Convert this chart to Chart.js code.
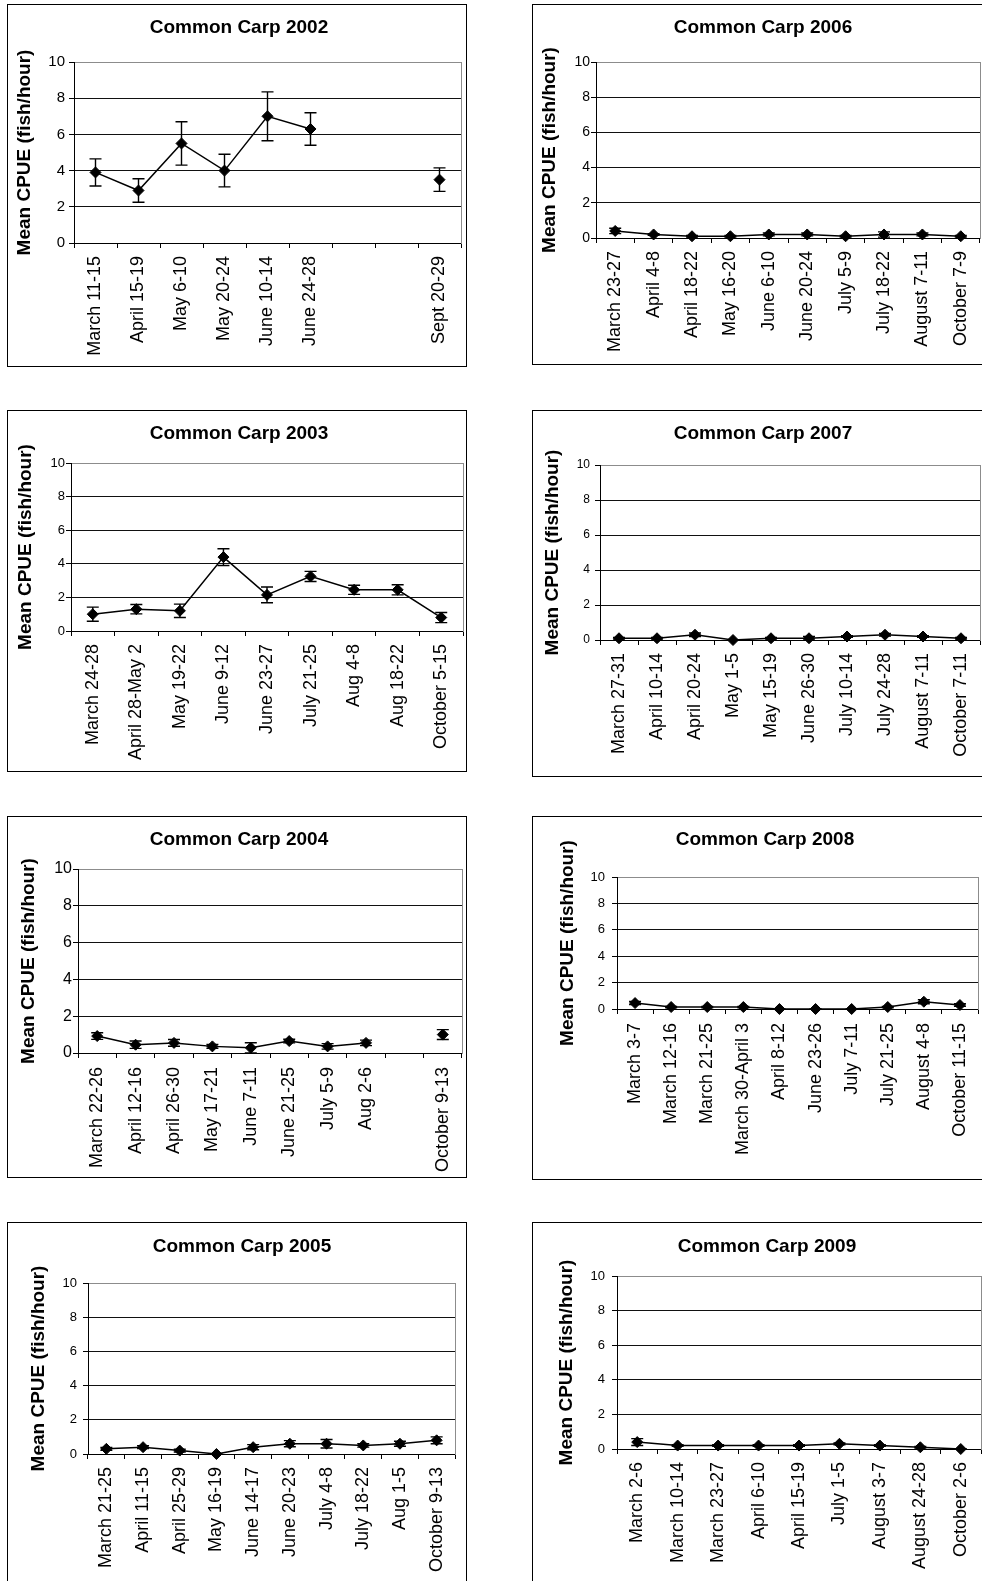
<!DOCTYPE html>
<html>
<head>
<meta charset="utf-8">
<title>Common Carp CPUE 2002-2009</title>
<script src="https://cdn.jsdelivr.net/npm/chart.js@4.4.1/dist/chart.umd.min.js"></script>
<style>
  html, body { margin: 0; padding: 0; background: #fff; }
  body { width: 982px; height: 1581px; overflow: hidden; position: relative; }
  .panel { position: absolute; box-sizing: border-box; border: 1px solid #000; background: #fff; }
  .panel canvas { position: absolute; left: 0; top: 0; }
</style>
</head>
<body>
<script>
// ---- sampling periods, mean CPUE (fish/hour) and error-bar half widths ----
const labels2002 = ["March 11-15", "April 15-19", "May 6-10", "May 20-24", "June 10-14", "June 24-28", "", "", "Sept 20-29"];
const cpue2002   = [3.9, 2.9, 5.5, 4.0, 7.0, 6.3, null, null, 3.5];
const se2002     = [0.75, 0.65, 1.2, 0.9, 1.35, 0.9, null, null, 0.65];

const labels2003 = ["March 24-28", "April 28-May 2", "May 19-22", "June 9-12", "June 23-27", "July 21-25", "Aug 4-8", "Aug 18-22", "October 5-15"];
const cpue2003   = [1.0, 1.3, 1.2, 4.4, 2.15, 3.25, 2.45, 2.45, 0.8];
const se2003     = [0.42, 0.28, 0.4, 0.5, 0.47, 0.3, 0.27, 0.3, 0.3];

const labels2004 = ["March 22-26", "April 12-16", "April 26-30", "May 17-21", "June 7-11", "June 21-25", "July 5-9", "Aug 2-6", "", "October 9-13"];
const cpue2004   = [0.92, 0.45, 0.55, 0.36, 0.28, 0.65, 0.36, 0.55, null, 1.0];
const se2004     = [0.18, 0.2, 0.18, 0.1, 0.28, 0.1, 0.15, 0.15, null, 0.27];

const labels2005 = ["March 21-25", "April 11-15", "April 25-29", "May 16-19", "June 14-17", "June 20-23", "July 4-8", "July 18-22", "Aug 1-5", "October 9-13"];
const cpue2005   = [0.3, 0.4, 0.2, 0.0, 0.4, 0.6, 0.6, 0.5, 0.6, 0.8];
const se2005     = [0.08, 0.08, 0.08, 0.02, 0.15, 0.18, 0.25, 0.1, 0.15, 0.2];

const labels2006 = ["March 23-27", "April 4-8", "April 18-22", "May 16-20", "June 6-10", "June 20-24", "July 5-9", "July 18-22", "August 7-11", "October 7-9"];
const cpue2006   = [0.4, 0.2, 0.1, 0.1, 0.2, 0.2, 0.1, 0.2, 0.2, 0.1];
const se2006     = [0.15, 0.05, 0.05, 0.05, 0.08, 0.08, 0.05, 0.15, 0.08, 0.05];

const labels2007 = ["March 27-31", "April 10-14", "April 20-24", "May 1-5", "May 15-19", "June 26-30", "July 10-14", "July 24-28", "August 7-11", "October 7-11"];
const cpue2007   = [0.1, 0.1, 0.3, 0.0, 0.1, 0.1, 0.2, 0.3, 0.2, 0.1];
const se2007     = [0.05, 0.05, 0.1, 0.02, 0.05, 0.1, 0.05, 0.08, 0.05, 0.05];

const labels2008 = ["March 3-7", "March 12-16", "March 21-25", "March 30-April 3", "April 8-12", "June 23-26", "July 7-11", "July 21-25", "August 4-8", "October 11-15"];
const cpue2008   = [0.45, 0.15, 0.15, 0.15, 0.0, 0.0, 0.0, 0.15, 0.55, 0.3];
const se2008     = [0.12, 0.05, 0.05, 0.05, 0.02, 0.02, 0.02, 0.05, 0.15, 0.1];

const labels2009 = ["March 2-6", "March 10-14", "March 23-27", "April 6-10", "April 15-19", "July 1-5", "August 3-7", "August 24-28", "October 2-6"];
const cpue2009   = [0.4, 0.2, 0.2, 0.2, 0.2, 0.3, 0.2, 0.1, 0.0];
const se2009     = [0.2, 0.05, 0.05, 0.05, 0.05, 0.05, 0.05, 0.05, 0.02];

const cpueTicks = [0, 2, 4, 6, 8, 10];
const yAxisTitle = "Mean CPUE (fish/hour)";

// ---- page layout of the eight panels (page pixels) ----
// box: [left, top, width, height] of the framed panel
// plot: [left, top, right, bottom] of the plotting area
const panels = [
  { title: "Common Carp 2002", labels: labels2002, values: cpue2002, errors: se2002,
    box: [7, 4, 460, 363], plot: [74, 62, 461, 243], titleAt: [239, 28], yTitleX: 25, yTickSize: 15, yTickPad: 4, xTickPad: 8 },
  { title: "Common Carp 2006", labels: labels2006, values: cpue2006, errors: se2006,
    box: [532, 4, 470, 361], plot: [596, 62, 980, 238], titleAt: [763, 28], yTitleX: 550, yTickSize: 14, yTickPad: 1, xTickPad: 8 },
  { title: "Common Carp 2003", labels: labels2003, values: cpue2003, errors: se2003,
    box: [7, 410, 460, 362], plot: [71, 463, 463, 631], titleAt: [239, 434], yTitleX: 26, yTickSize: 13, yTickPad: 1, xTickPad: 8 },
  { title: "Common Carp 2007", labels: labels2007, values: cpue2007, errors: se2007,
    box: [532, 410, 470, 367], plot: [600, 465, 980, 640], titleAt: [763, 434], yTitleX: 553, yTickSize: 12, yTickPad: 5, xTickPad: 8 },
  { title: "Common Carp 2004", labels: labels2004, values: cpue2004, errors: se2004,
    box: [7, 816, 460, 362], plot: [78, 869, 462, 1053], titleAt: [239, 840], yTitleX: 29, yTickSize: 16, yTickPad: 1, xTickPad: 9 },
  { title: "Common Carp 2008", labels: labels2008, values: cpue2008, errors: se2008,
    box: [532, 816, 470, 364], plot: [617, 877, 978, 1009], titleAt: [765, 840], yTitleX: 568, yTickSize: 13, yTickPad: 7, xTickPad: 9 },
  { title: "Common Carp 2005", labels: labels2005, values: cpue2005, errors: se2005,
    box: [7, 1222, 460, 400], plot: [88, 1283, 455, 1454], titleAt: [242, 1247], yTitleX: 39, yTickSize: 13, yTickPad: 6, xTickPad: 8 },
  { title: "Common Carp 2009", labels: labels2009, values: cpue2009, errors: se2009,
    box: [532, 1222, 470, 400], plot: [617, 1276, 981, 1449], titleAt: [767, 1247], yTitleX: 567, yTickSize: 13, yTickPad: 7, xTickPad: 8 }
];

const FONT = "'Liberation Sans', Arial, Helvetica, sans-serif";
const TITLE_SIZE = 19;
const AXIS_TITLE_SIZE = 19;
const LABEL_SIZE = 18;

// Vertical error bars with caps, positioned through the chart's own scales.
const errorBarPlugin = {
  id: 'errorBars',
  beforeDatasetsDraw(chart) {
    const ctx = chart.ctx;
    const yScale = chart.scales.y;
    chart.data.datasets.forEach((ds, i) => {
      const meta = chart.getDatasetMeta(i);
      ctx.save();
      ctx.strokeStyle = '#000';
      ctx.lineWidth = 1.4;
      meta.data.forEach((pt, j) => {
        const v = ds.data[j];
        const e = ds.errors ? ds.errors[j] : null;
        if (v == null || e == null) return;
        const x = pt.x;
        const yTop = yScale.getPixelForValue(v + e);
        const yBot = yScale.getPixelForValue(v - e);
        const half = 6;
        ctx.beginPath();
        ctx.moveTo(x, yTop); ctx.lineTo(x, yBot);
        ctx.moveTo(x - half, yTop); ctx.lineTo(x + half, yTop);
        ctx.moveTo(x - half, yBot); ctx.lineTo(x + half, yBot);
        ctx.stroke();
      });
      ctx.restore();
    });
  }
};

panels.forEach(p => {
  const [bx, by, bw, bh] = p.box;
  const [pl, pt, pr, pb] = p.plot;

  const div = document.createElement('div');
  div.className = 'panel';
  div.style.left = bx + 'px';
  div.style.top = by + 'px';
  div.style.width = bw + 'px';
  div.style.height = bh + 'px';
  document.body.appendChild(div);

  const cL = bx + 1, cT = by + 1;
  const W = Math.round(2 * (p.titleAt[0] - cL));   // title is centred on the canvas
  const H = bh - 2;

  const canvas = document.createElement('canvas');
  canvas.width = W; canvas.height = H;
  canvas.style.width = W + 'px'; canvas.style.height = H + 'px';
  div.appendChild(canvas);

  const yAxisW = pl - cL;
  const rightW = cL + W - pr;
  const xAxisH = cT + H - pb;
  const titleBoxH = pt - cT;
  const titleLH = TITLE_SIZE * 1.2;
  const titlePadTop = p.titleAt[1] - cT - titleLH / 2;
  const titlePadBottom = titleBoxH - titlePadTop - titleLH;
  const yTitlePad = p.yTitleX - cL - (AXIS_TITLE_SIZE * 1.2) / 2;

  new Chart(canvas, {
    type: 'line',
    data: {
      labels: p.labels,
      datasets: [{
        data: p.values,
        errors: p.errors,
        borderColor: '#000',
        borderWidth: 1.5,
        pointStyle: 'rectRot',
        pointRadius: 5.5,
        pointHoverRadius: 5.5,
        pointBackgroundColor: '#000',
        pointBorderColor: '#000',
        pointBorderWidth: 1,
        spanGaps: false,
        tension: 0,
        fill: false,
        clip: false
      }]
    },
    options: {
      responsive: false,
      animation: false,
      events: [],
      layout: { padding: 0 },
      plugins: {
        legend: { display: false },
        tooltip: { enabled: false },
        title: {
          display: true,
          text: p.title,
          color: '#000',
          font: { family: FONT, size: TITLE_SIZE, weight: 'bold' },
          padding: { top: titlePadTop, bottom: titlePadBottom }
        }
      },
      scales: {
        x: {
          type: 'category',
          offset: true,
          grid: { offset: true, drawOnChartArea: false, drawTicks: true, tickLength: 5, tickColor: '#000', lineWidth: 1 },
          border: { color: '#000', width: 1 },
          ticks: {
            autoSkip: false, minRotation: 90, maxRotation: 90,
            padding: p.xTickPad, color: '#000',
            font: { family: FONT, size: LABEL_SIZE }
          },
          afterFit(s) { s.height = xAxisH; s.paddingLeft = 0; s.paddingRight = 0; }
        },
        y: {
          type: 'linear',
          position: 'left',
          min: 0, max: 10,
          afterBuildTicks(s) { s.ticks = cpueTicks.map(v => ({ value: v })); },
          grid: {
            color: c => (c.tick && c.tick.value === 10) ? '#8c8c8c' : '#111',
            tickColor: '#000', tickLength: 5, lineWidth: 1
          },
          border: { color: '#000', width: 1 },
          ticks: { padding: p.yTickPad, color: '#000', font: { family: FONT, size: p.yTickSize } },
          title: {
            display: true, text: yAxisTitle, color: '#000',
            font: { family: FONT, size: AXIS_TITLE_SIZE, weight: 'bold' },
            padding: { top: yTitlePad, bottom: 0 }
          },
          afterFit(s) { s.width = yAxisW; }
        },
        frame: {
          type: 'linear',
          position: 'right',
          display: true,
          grid: { display: false, drawTicks: false },
          ticks: { display: false },
          border: { display: true, color: '#8c8c8c', width: 1 },
          afterFit(s) { s.width = rightW; }
        }
      }
    },
    plugins: [errorBarPlugin]
  });
});
</script>
</body>
</html>
